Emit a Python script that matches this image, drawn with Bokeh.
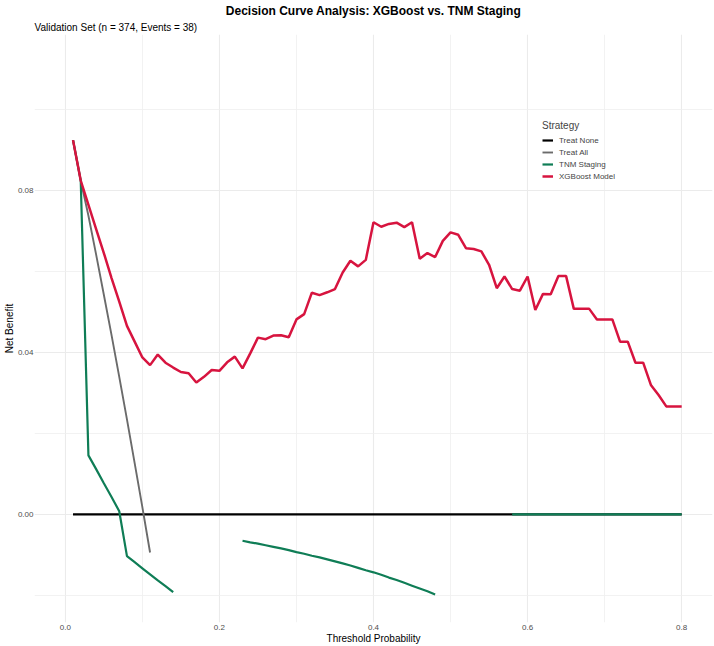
import numpy as np
from bokeh.plotting import figure
from bokeh.models import Range1d, FixedTicker, NumeralTickFormatter, Legend, LegendItem, Title
from bokeh.embed import file_html
from bokeh.resources import INLINE

nan = float("nan")

# Threshold probabilities (0.01 .. 0.80)
thresholds = [round(0.01 * i, 2) for i in range(1, 81)]

# Treat None: zero net benefit everywhere
treat_none = [0.0] * 80

# Treat All (only drawn while net benefit stays above the clip)
treat_all_thr = [0.01, 0.02, 0.03, 0.04, 0.05, 0.06, 0.07, 0.08, 0.09, 0.10, 0.11]
treat_all = [0.0925, 0.0825, 0.0738, 0.0642, 0.0543, 0.0443, 0.0340, 0.0235, 0.0127, 0.0018, -0.0094]

# TNM Staging (gaps where net benefit drops below the plotted floor)
tnm = [0.0925, 0.0825, 0.0146, 0.0112, 0.0077, 0.0043, 0.0008, -0.0103, -0.0118, -0.0133,
       -0.0148, -0.0163, -0.0177, -0.0192, nan, nan, nan, nan, nan, nan,
       nan, nan, -0.0065, -0.0069, -0.0072, -0.0076, -0.0080, -0.0084, -0.0088, -0.0093,
       -0.0097, -0.0102, -0.0106, -0.0111, -0.0116, -0.0121, -0.0126, -0.0132, -0.0138, -0.0143,
       -0.0149, -0.0156, -0.0162, -0.0169, -0.0176, -0.0183, -0.0190, -0.0198, nan, nan,
       nan, nan, nan, nan, nan, nan, nan, 0.0, 0.0, 0.0,
       0.0, 0.0, 0.0, 0.0, 0.0, 0.0, 0.0, 0.0, 0.0, 0.0,
       0.0, 0.0, 0.0, 0.0, 0.0, 0.0, 0.0, 0.0, 0.0, 0.0]

# XGBoost Model
xgb = [0.0925, 0.0825, 0.0765, 0.0705, 0.0646, 0.0584, 0.0526, 0.0466, 0.0427, 0.0388,
       0.0369, 0.0395, 0.0375, 0.0363, 0.0352, 0.0349, 0.0326, 0.0340, 0.0357, 0.0355,
       0.0376, 0.0390, 0.0361, 0.0398, 0.0437, 0.0433, 0.0442, 0.0443, 0.0438, 0.0482,
       0.0495, 0.0548, 0.0542, 0.0549, 0.0557, 0.0598, 0.0627, 0.0613, 0.0629, 0.0722,
       0.0711, 0.0718, 0.0721, 0.0710, 0.0722, 0.0632, 0.0646, 0.0636, 0.0676, 0.0697,
       0.0691, 0.0658, 0.0656, 0.0650, 0.0617, 0.0559, 0.0588, 0.0557, 0.0553, 0.0588,
       0.0505, 0.0545, 0.0544, 0.0589, 0.0589, 0.0508, 0.0508, 0.0508, 0.0482, 0.0482,
       0.0482, 0.0427, 0.0427, 0.0375, 0.0375, 0.0320, 0.0295, 0.0267, 0.0267, 0.0267]

x_major = [0.0, 0.2, 0.4, 0.6, 0.8]
x_minor = [0.1, 0.3, 0.5, 0.7]
y_major = [0.0, 0.04, 0.08]
y_minor = [-0.02, 0.02, 0.06, 0.10]

FONT = "Liberation Sans"

p = figure(width=714, height=646, output_backend="svg", toolbar_location=None,
           title=None,
           x_range=Range1d(-0.04, 0.84), y_range=Range1d(-0.0267, 0.1186),
           min_border_left=0, min_border_right=2, min_border_top=0, min_border_bottom=0)
p.outline_line_color = None
p.background_fill_color = "white"
p.border_fill_color = "white"

p.add_layout(Title(text="Validation Set (n = 374, Events = 38)", align="left",
                   text_font=FONT, text_font_size="10px", text_font_style="normal",
                   text_color="black", standoff=3), "above")
p.add_layout(Title(text="Decision Curve Analysis: XGBoost vs. TNM Staging", align="center",
                   text_font=FONT, text_font_size="12px", text_font_style="bold",
                   text_color="black", standoff=2), "above")

p.xaxis.ticker = FixedTicker(ticks=x_major, minor_ticks=x_minor)
p.yaxis.ticker = FixedTicker(ticks=y_major, minor_ticks=y_minor)
p.xaxis.formatter = NumeralTickFormatter(format="0.0")
p.yaxis.formatter = NumeralTickFormatter(format="0.00")

for ax in (p.xaxis, p.yaxis):
    ax.axis_line_color = None
    ax.major_tick_line_color = None
    ax.minor_tick_line_color = None
    ax.major_tick_out = 0
    ax.major_tick_in = 0
    ax.minor_tick_out = 0
    ax.major_label_text_font = FONT
    ax.major_label_text_font_size = "8px"
    ax.major_label_text_color = "#4D4D4D"
    ax.axis_label_text_font = FONT
    ax.axis_label_text_font_size = "10px"
    ax.axis_label_text_font_style = "normal"
    ax.axis_label_text_color = "black"

p.xaxis.axis_label = "Threshold Probability"
p.yaxis.axis_label = "Net Benefit"
p.xaxis.major_label_standoff = 2
p.xaxis.axis_label_standoff = 0
p.yaxis.major_label_standoff = 1
p.yaxis.axis_label_standoff = 0

for g in (p.xgrid, p.ygrid):
    g.grid_line_color = "#EBEBEB"
    g.grid_line_width = 1.1
    g.minor_grid_line_color = "#EFEFEF"
    g.minor_grid_line_width = 0.8

r_none = p.line(thresholds, treat_none, line_color="black", line_width=2.2)
r_all = p.line(treat_all_thr, treat_all, line_color="#6B6B6B", line_width=1.9)
r_tnm = p.line(thresholds, tnm, line_color="#0F7D56", line_width=2.2)
r_xgb = p.line(thresholds, xgb, line_color="#D7143F", line_width=2.5)

legend = Legend(items=[
    LegendItem(label="Treat None", renderers=[r_none]),
    LegendItem(label="Treat All", renderers=[r_all]),
    LegendItem(label="TNM Staging", renderers=[r_tnm]),
    LegendItem(label="XGBoost Model", renderers=[r_xgb]),
], location=(506, 438), title="Strategy")
legend.title_text_font = FONT
legend.title_text_font_size = "10px"
legend.title_text_font_style = "normal"
legend.title_standoff = 3
legend.label_text_font = FONT
legend.label_text_font_size = "8px"
legend.glyph_width = 11
legend.glyph_height = 12
legend.label_height = 12
legend.label_standoff = 6
legend.spacing = 0
legend.padding = 2
legend.margin = 0
legend.background_fill_alpha = 0
legend.border_line_alpha = 0
p.add_layout(legend, "center")

open("out.html", "w").write(file_html(p, INLINE))
